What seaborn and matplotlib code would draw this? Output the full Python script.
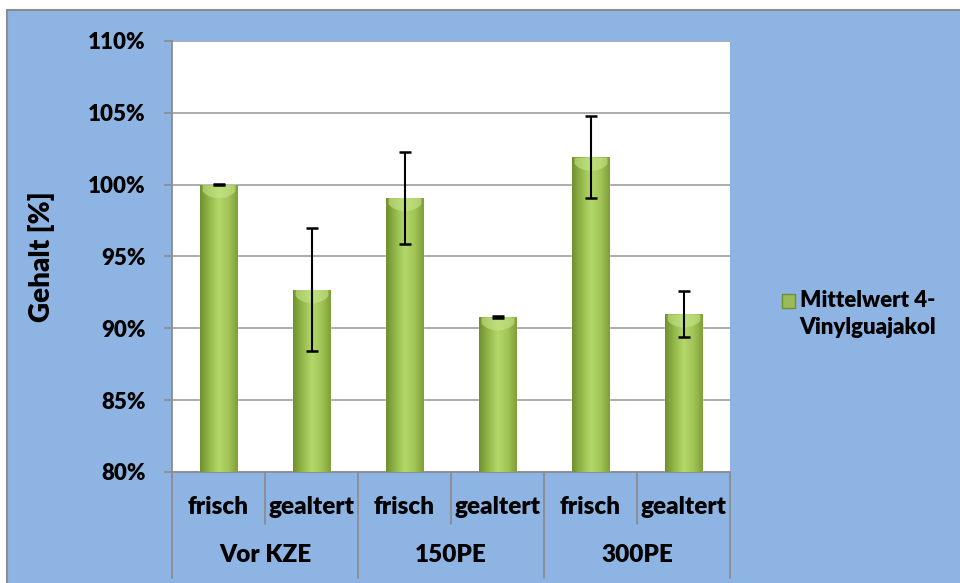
import numpy as np
import pandas as pd
import matplotlib
matplotlib.use("Agg")
import matplotlib.pyplot as plt
import matplotlib.patches as mpatches
from matplotlib.legend_handler import HandlerPatch
from matplotlib.colors import LinearSegmentedColormap
import seaborn as sns

# Data
groups = ["Vor KZE", "150PE", "300PE"]
states = ["frisch", "gealtert"]
means = [100.0, 92.7, 99.1, 90.8, 101.9, 91.0]   # Gehalt in %
errors = [0.05, 4.3, 3.2, 0.05, 2.85, 1.6]       # standard deviation in %
series_name = "Mittelwert 4-\nVinylguajakol"
yticks = [80, 85, 90, 95, 100, 105, 110]

df = pd.DataFrame({
    "key": [f"{g}|{s}" for g in groups for s in states],
    "group": [g for g in groups for s in states],
    "state": [s for g in groups for s in states],
    "value": means,
})

sns.set_theme(style="white")
plt.rcParams["font.family"] = ["Lato", "DejaVu Sans"]
plt.rcParams["font.weight"] = "bold"
plt.rcParams["text.color"] = "black"
plt.rcParams["axes.labelcolor"] = "black"
plt.rcParams["ytick.color"] = "black"

bg_blue = "#8EB4E3"
grid_gray = "#A6A6A6"
bar_green = "#9BBB59"
FW = "heavy"

fig = plt.figure(figsize=(9.6, 5.83), dpi=100, facecolor="white")
# chart area background with a grey frame
frame = mpatches.Rectangle((7 / 960, -0.05), 1.1, 1 - 10 / 583 + 0.05,
                           transform=fig.transFigure, facecolor=bg_blue,
                           edgecolor="#8C8C8C", linewidth=1.5, zorder=-10)
fig.patches.append(frame)

ax = fig.add_axes([172 / 960, 1 - 472 / 583, (730 - 172) / 960, (472 - 41) / 583])
ax.set_facecolor("white")
ax.set_zorder(1)

sns.barplot(data=df, x="key", y="value", color=bar_green, width=0.4,
            saturation=1, ax=ax, zorder=3, errorbar=None)

# cylinder-like shading on each bar
cmap = LinearSegmentedColormap.from_list(
    "barshade", ["#6F8F2E", "#93B84A", "#B5D86A", "#A2C558", "#7E9F36"])
grad = np.linspace(0, 1, 256).reshape(1, -1)
for p in list(ax.patches):
    x0, y0 = p.get_x(), p.get_y()
    w, h = p.get_width(), p.get_height()
    im = ax.imshow(grad, extent=[x0, x0 + w, 80, y0 + h], aspect="auto",
                   cmap=cmap, zorder=3.5, interpolation="bicubic")
    im.set_clip_path(p)
    # light bevel at the top
    xs = np.linspace(x0 + w * 0.06, x0 + w * 0.94, 40)
    t = (xs - (x0 + w / 2)) / (w / 2)
    ax.fill_between(xs, y0 + h - 0.9 * (1 - t ** 2) ** 0.5, y0 + h,
                    color="#C8E58A", alpha=0.6, zorder=3.6, linewidth=0)

positions = np.arange(len(means))
ax.errorbar(positions, means, yerr=errors, fmt="none", ecolor="black",
            elinewidth=1.5, capsize=4.5, capthick=1.8, zorder=5)

ax.set_ylim(80, 110)
ax.set_xlim(-0.5, len(means) - 0.5)
ax.set_yticks(yticks)
ax.set_yticklabels([f"{t}%" for t in yticks], fontsize=16, fontweight=FW)
ax.yaxis.grid(True, color=grid_gray, linewidth=1.3, zorder=0)
ax.set_axisbelow(True)
ax.tick_params(axis="y", length=6, width=1.2, color="#8C8C8C", pad=13, left=True,
               labelcolor="black")
ax.set_xticks([])
ax.set_xlabel("")
ax.set_ylabel("Gehalt [%]", fontsize=20, fontweight=FW, labelpad=24, color="black")
for side in ["top", "right"]:
    ax.spines[side].set_visible(False)
for side in ["left", "bottom"]:
    ax.spines[side].set_color("#8C8C8C")
    ax.spines[side].set_linewidth(1.3)

# two-level category labels
trans = ax.get_xaxis_transform()
px = 1 / (472 - 41)
for i, s in enumerate(df["state"]):
    ax.text(i, -35 * px, s, transform=trans, ha="center", va="center",
            fontsize=17.5, fontweight=FW, clip_on=False, color="black")
for j, g in enumerate(groups):
    ax.text(2 * j + 0.5, -83 * px, g, transform=trans, ha="center", va="center",
            fontsize=17.5, fontweight=FW, clip_on=False, color="black")

# separators between categories
for k in range(len(means) + 1):
    xb = k - 0.5
    depth = 106 if k % 2 == 0 else 52
    ax.plot([xb, xb], [0, -depth * px], transform=trans, color="#8C8C8C",
            linewidth=1.3, clip_on=False, zorder=2)


def top_square(legend, orig_handle, xdescent, ydescent, width, height, fontsize):
    # legend key sits beside the first line of the two-line label
    return mpatches.Rectangle((-xdescent, -ydescent + 0.62 * fontsize), width, height)


handle = mpatches.Patch(facecolor=bar_green, edgecolor="#6F8F2E", label=series_name)
leg = fig.legend(handles=[handle], loc="center left",
                 bbox_to_anchor=(762 / 960, 1 - 314 / 583),
                 frameon=False, handlelength=0.6, handleheight=0.6, handletextpad=0.2,
                 prop={"size": 16, "weight": FW},
                 handler_map={mpatches.Patch: HandlerPatch(patch_func=top_square)})
for t in leg.get_texts():
    t.set_linespacing(1.35)
    t.set_color("black")

fig.savefig("out.png", dpi=100, facecolor=fig.get_facecolor())
